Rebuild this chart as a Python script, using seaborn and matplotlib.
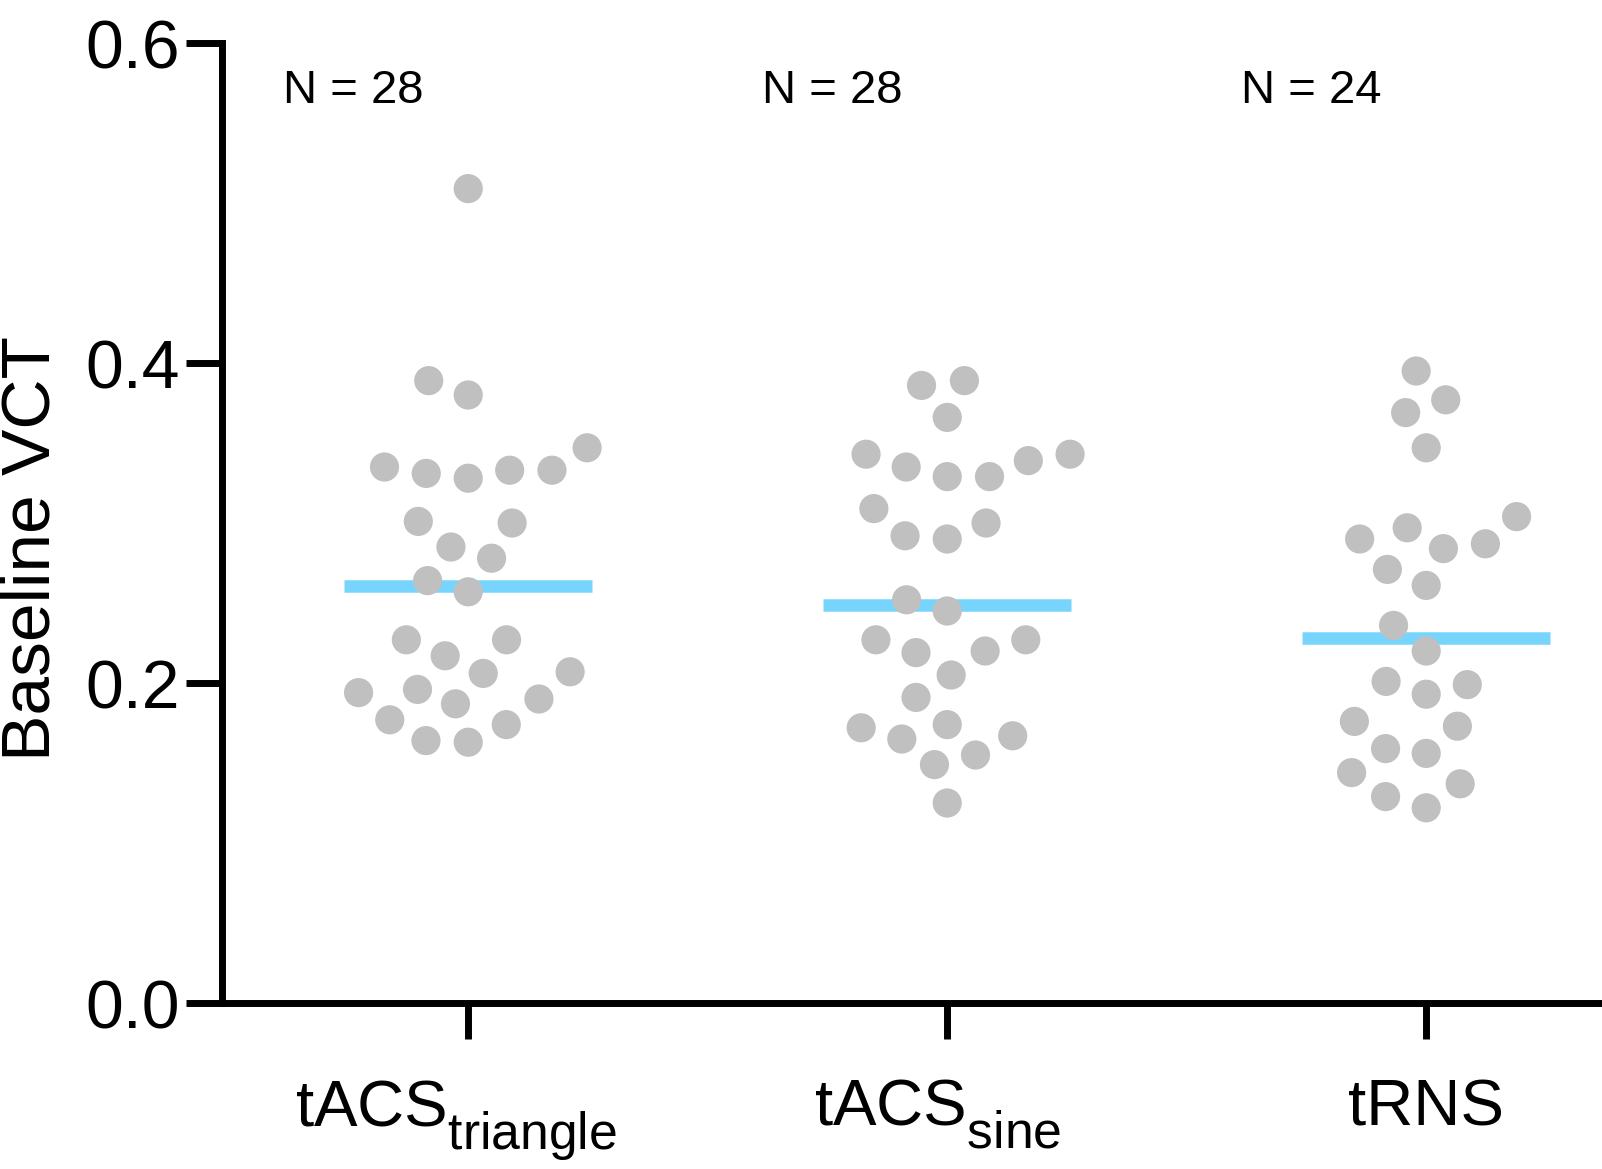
import numpy as np
import pandas as pd
import matplotlib
matplotlib.use("Agg")
import matplotlib.pyplot as plt
import matplotlib._mathtext as _mt
from matplotlib.transforms import ScaledTranslation
import seaborn as sns

# ---------------- data ----------------
groups = ["tACS_triangle", "tACS_sine", "tRNS"]
tick_labels = [r"$\mathrm{tACS}_{\mathrm{triangle}}$",
               r"$\mathrm{tACS}_{\mathrm{sine}}$",
               "tRNS"]
n_labels = ["N = 28", "N = 28", "N = 24"]
y_ticks = [0.0, 0.2, 0.4, 0.6]
y_label = "Baseline VCT"

tacs_triangle = [0.509, 0.389, 0.380, 0.347, 0.335, 0.333, 0.333, 0.331,
                 0.328, 0.301, 0.300, 0.285, 0.278, 0.264, 0.257, 0.227,
                 0.227, 0.217, 0.207, 0.206, 0.196, 0.194, 0.190, 0.187,
                 0.177, 0.174, 0.164, 0.163]
tacs_sine = [0.389, 0.386, 0.366, 0.343, 0.343, 0.339, 0.335, 0.329,
             0.329, 0.309, 0.300, 0.292, 0.290, 0.252, 0.245, 0.227,
             0.227, 0.220, 0.219, 0.205, 0.191, 0.174, 0.172, 0.167,
             0.165, 0.155, 0.149, 0.125]
trns = [0.395, 0.377, 0.369, 0.347, 0.304, 0.297, 0.290, 0.287,
        0.284, 0.271, 0.261, 0.236, 0.220, 0.201, 0.199, 0.193,
        0.176, 0.173, 0.159, 0.156, 0.144, 0.137, 0.129, 0.122]

values = {"tACS_triangle": tacs_triangle, "tACS_sine": tacs_sine, "tRNS": trns}
df = pd.DataFrame({
    "group": [g for g in groups for _ in values[g]],
    "value": [v for g in groups for v in values[g]],
})

# ---------------- style ----------------
sns.set_theme(style="ticks")
plt.rcParams["font.family"] = ["Liberation Sans", "DejaVu Sans"]
plt.rcParams["mathtext.fontset"] = "custom"
plt.rcParams["mathtext.rm"] = "Liberation Sans"
plt.rcParams["mathtext.it"] = "Liberation Sans:italic"
plt.rcParams["mathtext.bf"] = "Liberation Sans:bold"
for key in ["text.color", "axes.labelcolor", "xtick.color", "ytick.color",
            "xtick.labelcolor", "ytick.labelcolor", "axes.edgecolor"]:
    plt.rcParams[key] = "black"
# larger, lower subscripts (closer to the reference typography)
_mt.SHRINK_FACTOR = 0.79
_mt.FontConstantsBase.sub1 = 0.68

dot_color = "#C0C0C0"
line_color = "#77D5FD"

fig = plt.figure(figsize=(16.02, 11.69), dpi=100)
ax = fig.add_axes([0.1386, 0.1420, 0.8596, 0.8212])

# median lines
sns.boxplot(data=df, x="group", y="value", order=groups, ax=ax,
            width=0.518, whis=0, showbox=False, showcaps=False,
            showfliers=False,
            whiskerprops={"visible": False},
            medianprops={"color": line_color, "linewidth": 9,
                         "solid_capstyle": "butt", "zorder": 2})

# dots (invisible edge widens the swarm spacing)
sns.swarmplot(data=df, x="group", y="value", order=groups, ax=ax,
              color=dot_color, size=21, linewidth=8, edgecolor="none",
              zorder=3)

ax.set_ylim(0, 0.6)
ax.set_xlim(-0.514, 2.361)
ax.set_yticks(y_ticks)
ax.set_yticklabels([f"{t:.1f}" for t in y_ticks])
ax.set_xticks(range(len(groups)))
ax.set_xticklabels(tick_labels)
ax.set_xlabel("")
ax.set_ylabel(y_label, fontsize=50, color="black")
ax.yaxis.set_label_coords(-0.115, 0.473)

for side in ["top", "right"]:
    ax.spines[side].set_visible(False)
for side in ["left", "bottom"]:
    ax.spines[side].set_linewidth(5)
    ax.spines[side].set_color("black")
    ax.spines[side].set_capstyle("projecting")

ax.tick_params(axis="y", direction="out", length=26, width=5,
               color="black", labelcolor="black", labelsize=49, pad=4,
               left=True)
ax.tick_params(axis="x", direction="out", length=26, width=5,
               color="black", labelcolor="black", labelsize=47, pad=28,
               bottom=True)

# nudge the subscripted labels slightly left, as in the reference
for lab, dx in zip(ax.get_xticklabels(), [-0.12, -0.10, 0.0]):
    lab.set_transform(lab.get_transform() +
                      ScaledTranslation(dx, 0, fig.dpi_scale_trans))

for i, lab in enumerate(n_labels):
    ax.text(i - 0.24, 0.5698, lab, ha="center", va="center", fontsize=34,
            color="black")

fig.savefig("out.png", dpi=100)
